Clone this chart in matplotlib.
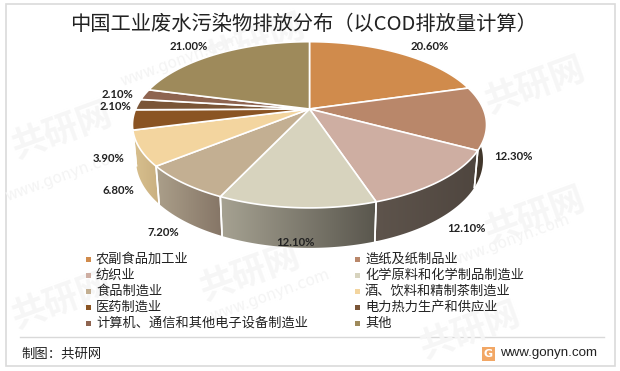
import numpy as np
import matplotlib
matplotlib.use("Agg")
import matplotlib.pyplot as plt
from matplotlib.patches import Rectangle, Polygon

plt.rcParams['font.family'] = ['Noto Sans CJK SC', 'DejaVu Sans']

title = "中国工业废水污染物排放分布（以COD排放量计算）"
categories = ["农副食品加工业", "造纸及纸制品业", "纺织业", "化学原料和化学制品制造业", "食品制造业",
              "酒、饮料和精制茶制造业", "医药制造业", "电力热力生产和供应业",
              "计算机、通信和其他电子设备制造业", "其他"]
values = [20.6, 12.3, 12.1, 12.1, 7.2, 6.8, 3.9, 2.1, 2.1, 21.0]
colors = ["#D08B4C", "#B9876A", "#CEAEA2", "#D7D3BE", "#C3AF92",
          "#F3D59F", "#8A5423", "#7A5537", "#8E6450", "#9E8A5B"]
side_left = ["#9a6a3a", "#4a3e32", "#5e544c", "#a6a292", "#ab9f8a",
             "#d8c08e", "#6a4018", "#5e412a", "#6e4d3e", "#7a6b46"]
side_right = ["#8a5f34", "#3e3429", "#4f463f", "#5a574e", "#857566",
              "#c9af80", "#6a4018", "#5e412a", "#6e4d3e", "#7a6b46"]
label_pos = [(430, 47), (513, 156), (466, 229), (295, 242), (163, 232),
             (118, 191), (109, 158), (115, 106), (117, 94), (189, 47)]

CX, CY, A, B, P = 309.5, 109.0, 173.8, 80.1, 0.19


def project(theta):
    X, Y = np.sin(theta), np.cos(theta)
    d = 1 + P * Y
    return CX + A * X / d, CY - B * Y / d, Y


def project_low(theta):
    x, y, Y = project(theta)
    return CX + (x - CX) * 0.98, y + 34 - 6 * Y


fig = plt.figure(figsize=(6.2, 3.71), dpi=100, facecolor="white")
ax = fig.add_axes([0, 0, 1, 1])
ax.set_xlim(0, 620)
ax.set_ylim(371, 0)
ax.axis("off")

# frame and footer rule
ax.add_patch(Rectangle((6, 4), 609, 362, fill=False, ec="#DADADA", lw=1.2, zorder=1))
ax.plot([20, 604], [337, 337], color="#D9D9D9", lw=1, zorder=1)

# watermarks
for (wx, wy) in [(255, 42), (62, 130), (535, 85), (250, 272), (470, 330), (62, 300), (535, 215)]:
    ax.text(wx, wy, "共研网", fontsize=25, fontweight="bold", color="#F6F6F6", rotation=20,
            ha="center", va="center", zorder=1)
for (wx, wy) in [(180, 60), (270, 295), (510, 240), (65, 175)]:
    ax.text(wx, wy, "www.gonyn.com", fontsize=11, color="#F4F4F4", rotation=20,
            ha="center", va="center", zorder=1, fontfamily="DejaVu Sans")

# slices
frac = np.array(values) / sum(values)
edges = np.concatenate([[0], np.cumsum(frac)]) * 2 * np.pi
mid_y = [np.cos((edges[i] + edges[i + 1]) / 2) for i in range(len(values))]

# side faces, back to front
for i in np.argsort(mid_y)[::-1]:
    th = np.linspace(edges[i], edges[i + 1], 80)
    xt, yt, _ = project(th)
    xb, yb = project_low(th)
    pts = np.column_stack([np.concatenate([xt, xb[::-1]]), np.concatenate([yt, yb[::-1]])])
    poly = Polygon(pts, closed=True, fc="none", ec="none", zorder=2)
    ax.add_patch(poly)
    c0 = np.array(matplotlib.colors.to_rgb(side_left[i]))
    c1 = np.array(matplotlib.colors.to_rgb(side_right[i]))
    grad = np.linspace(0, 1, 64)[None, :, None] * (c1 - c0) + c0
    x0, x1, y0, y1 = pts[:, 0].min(), pts[:, 0].max(), pts[:, 1].min(), pts[:, 1].max()
    im = ax.imshow(grad, extent=(x0, x1, y1, y0), aspect="auto", zorder=2, interpolation="bilinear")
    im.set_clip_path(poly)
    ax.plot(pts[[0, len(th) * 2 - 1], 0], pts[[0, len(th) * 2 - 1], 1], color="white", lw=1.2, zorder=2.5)
    ax.plot(pts[[79, 80], 0], pts[[79, 80], 1], color="white", lw=1.2, zorder=2.5)
ax.set_xlim(0, 620)
ax.set_ylim(371, 0)

# top faces
for i in range(len(values)):
    th = np.linspace(edges[i], edges[i + 1], 80)
    xt, yt, _ = project(th)
    ax.fill(np.r_[CX, xt], np.r_[CY, yt], fc=colors[i], ec="white", lw=1.2, zorder=3, joinstyle="round")

# value labels
for v, (lx, ly) in zip(values, label_pos):
    ax.text(lx, ly, f"{v:.2f}%", fontsize=8.2, fontfamily="Lato", fontweight="bold", color="#222222",
            ha="center", va="center", zorder=5)

# title
ax.text(303, 24, title, fontsize=14.6, color="#222222", ha="center", va="center", zorder=5)

# legend
col_x = [88, 357]
for i, (name, c) in enumerate(zip(categories, colors)):
    lx = col_x[i % 2]
    ly = 259.5 + (i // 2) * 15.9
    ax.add_patch(Rectangle((lx - 2.5, ly - 2.5), 5, 5, fc=c, ec="none", zorder=5))
    ax.text(lx + 8, ly, name, fontsize=9.5, color="#222222", ha="left", va="center", zorder=5)

# footer
ax.text(21, 354, "制图：共研网", fontsize=9.6, color="#222222", ha="left", va="center", zorder=5)
ax.add_patch(Rectangle((482, 347), 13, 14, fc="#F2A765", ec="none", zorder=5))
ax.text(488.5, 354, "G", fontsize=8, fontweight="bold", color="white", ha="center", va="center",
        fontfamily="DejaVu Sans", zorder=6)
ax.text(500, 353, "www.gonyn.com", fontsize=9.6, color="#222222", ha="left", va="center",
        fontfamily="Liberation Sans", zorder=5)

fig.savefig("out.png", dpi=100)
